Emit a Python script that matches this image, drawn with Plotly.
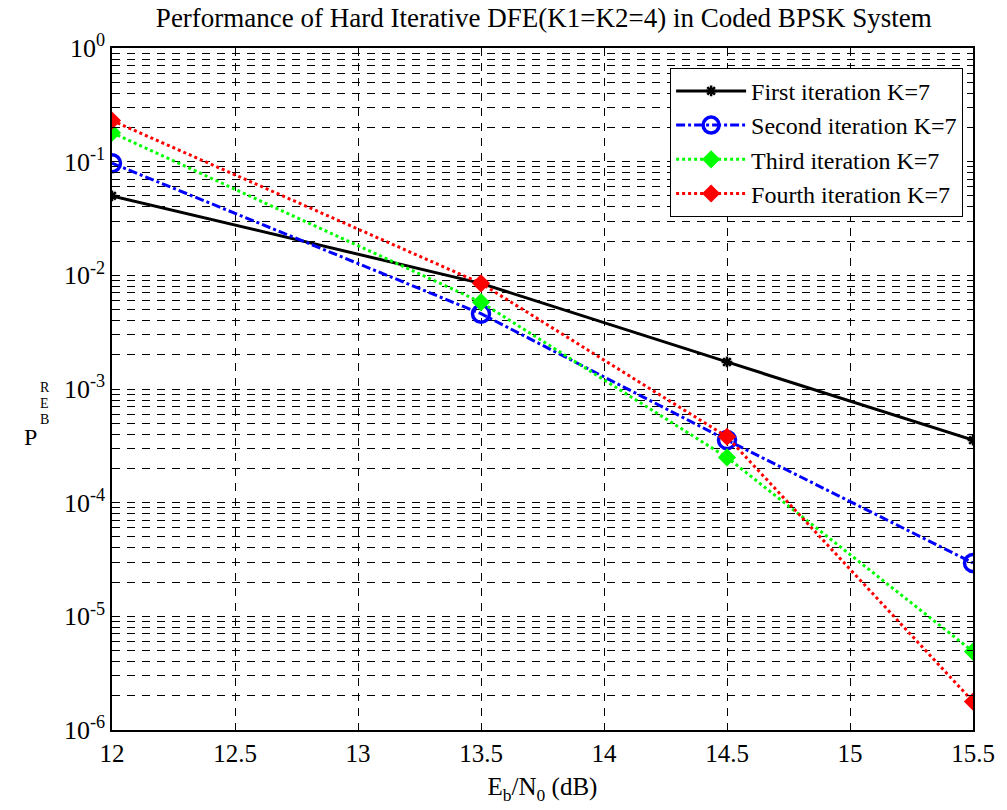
import plotly.graph_objects as go

ebn0 = [12, 13.5, 14.5, 15.5]
first_iter = [0.05, 8.5e-3, 1.73e-3, 3.55e-4]
second_iter = [0.097, 4.6e-3, 3.55e-4, 2.95e-5]
third_iter = [0.18, 5.8e-3, 2.5e-4, 4.9e-6]
fourth_iter = [0.23, 8.5e-3, 3.8e-4, 1.78e-6]

x_ticks = [12, 12.5, 13, 13.5, 14, 14.5, 15, 15.5]
decades = [-6, -5, -4, -3, -2, -1, 0]

FONT = "Liberation Serif"

y_vals, y_text = [], []
for d in decades:
    y_vals.append(10.0 ** d)
    y_text.append(f"10<sup>{d}</sup>")
    if d < 0:
        for m in range(2, 10):
            y_vals.append(m * 10.0 ** d)
            y_text.append("")

fig = go.Figure()
fig.add_trace(go.Scatter(x=ebn0, y=first_iter, mode="lines+markers", name="First iteration K=7",
                         line=dict(color="black", width=3, dash="solid"),
                         marker=dict(symbol="asterisk", size=9, color="black", line=dict(width=2.5, color="black"))))
fig.add_trace(go.Scatter(x=ebn0, y=second_iter, mode="lines+markers", name="Second iteration K=7",
                         line=dict(color="#0000ff", width=3, dash="dashdot"),
                         marker=dict(symbol="circle-open", size=17, color="#0000ff", line=dict(width=3.5, color="#0000ff"))))
fig.add_trace(go.Scatter(x=ebn0, y=third_iter, mode="lines+markers", name="Third iteration K=7",
                         line=dict(color="#00ff00", width=3, dash="dot"),
                         marker=dict(symbol="diamond", size=14, color="#00ff00")))
fig.add_trace(go.Scatter(x=ebn0, y=fourth_iter, mode="lines+markers", name="Fourth iteration K=7",
                         line=dict(color="#ff0000", width=3, dash="dot"),
                         marker=dict(symbol="diamond", size=14, color="#ff0000")))

fig.update_layout(
    width=1007, height=810,
    margin=dict(l=112, r=28, t=48, b=80),
    paper_bgcolor="white", plot_bgcolor="white",
    font=dict(family=FONT, color="black", size=24),
    title=dict(text="Performance of Hard Iterative DFE(K1=K2=4) in Coded BPSK System",
               x=0.54, xanchor="center", y=0.978, yanchor="middle",
               font=dict(family=FONT, size=27, color="black")),
    showlegend=True,
    legend=dict(x=0.9885, y=0.971, xanchor="right", yanchor="top",
                bgcolor="white", bordercolor="black", borderwidth=1,
                font=dict(family=FONT, size=24, color="black"),
                itemwidth=70, tracegroupgap=0),
)
fig.update_xaxes(
    range=[12, 15.5], tickvals=x_ticks, ticktext=[f"{v:g}" for v in x_ticks],
    ticks="inside", ticklen=6, tickcolor="black", mirror="ticks",
    showline=True, linecolor="black", linewidth=1.5,
    showgrid=True, gridcolor="black", gridwidth=1, griddash="8px,7px",
    zeroline=False, tickfont=dict(family=FONT, size=25, color="black"),
    title=dict(text="E<sub>b</sub>/N<sub>0</sub> (dB)", font=dict(family=FONT, size=25, color="black"), standoff=12),
)
fig.update_yaxes(
    type="log", range=[-6, 0], tickvals=y_vals, ticktext=y_text,
    ticks="inside", ticklen=6, tickcolor="black", mirror="ticks",
    showline=True, linecolor="black", linewidth=1.5,
    showgrid=True, gridcolor="black", gridwidth=1, griddash="8px,7px",
    zeroline=False, tickfont=dict(family=FONT, size=26, color="black"),
)

# y-axis label rendered as in the original (P with stacked subscript letters)
for txt, xx, yy, sz in [("P", 21, 437, 24), ("R", 37, 387, 14), ("E", 37, 403, 14), ("B", 37, 419, 14)]:
    fig.add_annotation(text=txt, x=xx, y=yy, xref="paper", yref="paper", showarrow=False,
                       font=dict(family=FONT, size=sz, color="black"))
# convert pixel coords to paper coords
for a in fig.layout.annotations:
    px, py = a.x, a.y
    a.x = (px - 112) / (1007 - 112 - 28)
    a.y = 1 - (py - 48) / (810 - 48 - 80)

fig.write_html("out.html")
